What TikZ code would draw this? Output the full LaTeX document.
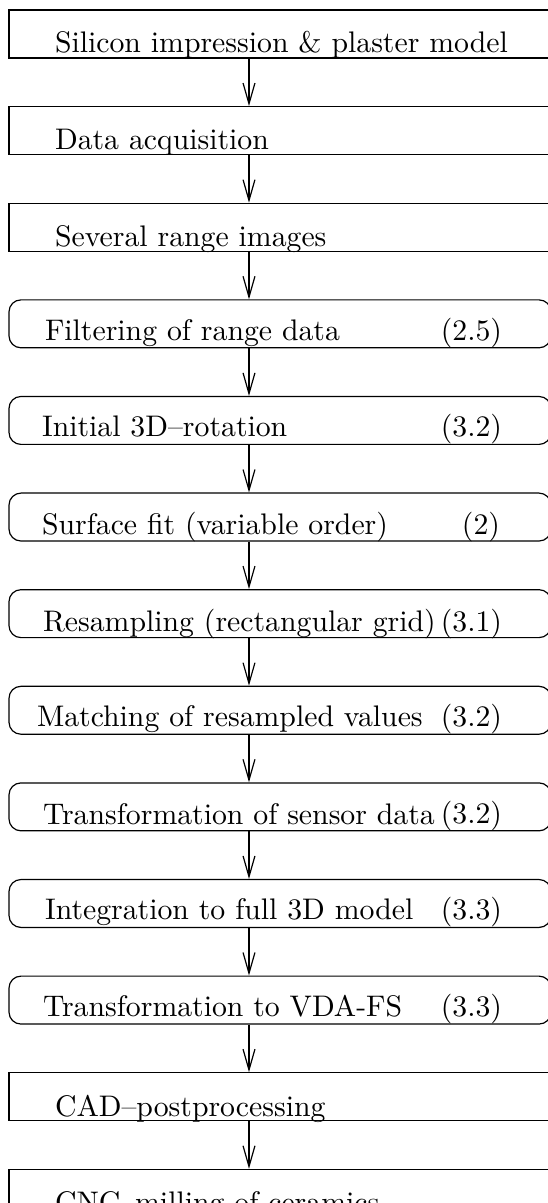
\documentclass[tikz,border=0pt]{standalone}
\usepackage{tikz}
\usetikzlibrary{positioning, arrows.meta}

\tikzset{
    plainbox/.style={draw, line width=0.4pt, inner sep=0pt,
        minimum width=182.1pt, minimum height=16.1pt},
    roundbox/.style={plainbox, rounded corners=4pt},
    boxtext/.style={inner sep=0pt, anchor=base west},
    sectext/.style={inner sep=0pt, anchor=base east},
    flow/.style={line width=0.4pt, -{Straight Barb[length=7pt, width=4pt]}}
}

\begin{document}
\begin{tikzpicture}[x=0.336pt, y=-0.336pt, node distance=15.96pt]
    \useasboundingbox (0,0) rectangle (548,1203);
    \clip (0,0) rectangle (548,1203);

    \coordinate (axis) at (249,0);

    \node[plainbox] (b1) at (280,34) {};
    \node[plainbox] (b2) [below=of b1] {};
    \node[plainbox] (b3) [below=of b2] {};
    \node[roundbox] (b4) [below=of b3] {};
    \node[roundbox] (b5) [below=of b4] {};
    \node[roundbox] (b6) [below=of b5] {};
    \node[roundbox] (b7) [below=of b6] {};
    \node[roundbox] (b8) [below=of b7] {};
    \node[roundbox] (b9) [below=of b8] {};
    \node[roundbox] (b10) [below=of b9] {};
    \node[roundbox] (b11) [below=of b10] {};
    \node[plainbox] (b12) [below=of b11] {};
    \node[plainbox] (b13) [below=of b12] {};

    % step names
    \node[boxtext] (t1) at ([shift={(46,-6)}]b1.south west) {Silicon impression \& plaster model};
    \node[boxtext] (t2) at ([shift={(46,-6)}]b2.south west) {Data acquisition};
    \node[boxtext] (t3) at ([shift={(46,-5)}]b3.south west) {Several range images};
    \node[boxtext] (t4) at ([shift={(36,-7.5)}]b4.south west) {Filtering of range data};
    \node[boxtext] (t5) at ([shift={(33,-8)}]b5.south west) {Initial 3D--rotation};
    \node[boxtext] (t6) at ([shift={(33,-7)}]b6.south west) {Surface fit (variable order)};
    \node[boxtext] (t7) at ([shift={(34,-7)}]b7.south west) {Resampling (rectangular grid)};
    \node[boxtext] (t8) at ([shift={(28,-8)}]b8.south west) {Matching of resampled values};
    \node[boxtext] (t9) at ([shift={(34,-7)}]b9.south west) {Transformation of sensor data};
    \node[boxtext] (t10) at ([shift={(36,-9)}]b10.south west) {Integration to full 3D model};
    \node[boxtext] (t11) at ([shift={(34,-8)}]b11.south west) {Transformation to VDA-FS};
    \node[boxtext] (t12) at ([shift={(46,-5)}]b12.south west) {CAD--postprocessing};
    \node[boxtext] (t13) at ([shift={(46,-5)}]b13.south west) {CNC--milling of ceramics};

    % section numbers
    \node[sectext] (s4) at ([shift={(-49,-7.5)}]b4.south east) {(2.5)};
    \node[sectext] (s5) at ([shift={(-49,-8)}]b5.south east) {(3.2)};
    \node[sectext] (s6) at ([shift={(-51,-7)}]b6.south east) {(2)};
    \node[sectext] (s7) at ([shift={(-49,-7)}]b7.south east) {(3.1)};
    \node[sectext] (s8) at ([shift={(-49,-8)}]b8.south east) {(3.2)};
    \node[sectext] (s9) at ([shift={(-49,-8)}]b9.south east) {(3.2)};
    \node[sectext] (s10) at ([shift={(-49,-9)}]b10.south east) {(3.3)};
    \node[sectext] (s11) at ([shift={(-49,-8)}]b11.south east) {(3.3)};

    \draw[flow] (b1.south -| axis) -- (b2.north -| axis);
    \draw[flow] (b2.south -| axis) -- (b3.north -| axis);
    \draw[flow] (b3.south -| axis) -- (b4.north -| axis);
    \draw[flow] (b4.south -| axis) -- (b5.north -| axis);
    \draw[flow] (b5.south -| axis) -- (b6.north -| axis);
    \draw[flow] (b6.south -| axis) -- (b7.north -| axis);
    \draw[flow] (b7.south -| axis) -- (b8.north -| axis);
    \draw[flow] (b8.south -| axis) -- (b9.north -| axis);
    \draw[flow] (b9.south -| axis) -- (b10.north -| axis);
    \draw[flow] (b10.south -| axis) -- (b11.north -| axis);
    \draw[flow] (b11.south -| axis) -- (b12.north -| axis);
    \draw[flow] (b12.south -| axis) -- (b13.north -| axis);
\end{tikzpicture}
\end{document}
